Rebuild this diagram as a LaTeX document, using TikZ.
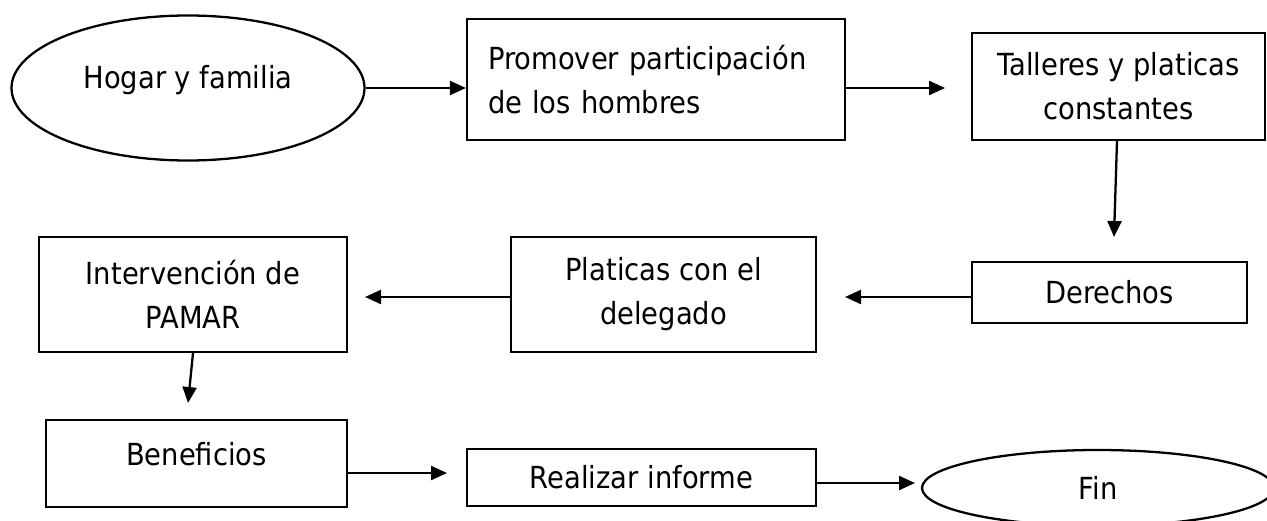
\documentclass[tikz,border=0pt]{standalone}
\usepackage{fontspec}
\setmainfont{DejaVu Sans}[FakeStretch=0.9]
\usepackage{tikz}
\usetikzlibrary{calc,arrows.meta,shapes.geometric}
\definecolor{lineaNegra}{RGB}{0,0,0}

\tikzset{
  caja/.style={draw=lineaNegra,line width=1.3pt,inner sep=0pt,align=center,font=\fontsize{17.3}{25}\selectfont},
  ovalo/.style={ellipse,draw=lineaNegra,line width=1.3pt,inner sep=0pt,font=\fontsize{17.3}{25}\selectfont},
  flecha/.style={-{Triangle[length=3.2mm,width=2.8mm]},lineaNegra,line width=1.3pt}
}

\begin{document}
\begin{tikzpicture}
\useasboundingbox (0,0) rectangle (25.34,-10.42);
% fila de arriba
\node[ovalo,minimum width=7.06cm,minimum height=2.9cm,text depth=0.45cm] (hogar) at (3.76,-1.76) {Hogar y familia};
\node[caja,minimum width=7.56cm,minimum height=2.42cm,align=left,text width=6.72cm,inner xsep=0.42cm] (promover) at (13.12,-1.59) {Promover participación\\de los hombres};
\node[caja,minimum width=5.86cm,minimum height=2.14cm] (talleres) at (22.37,-1.73) {Talleres y platicas\\constantes};
% fila del medio
\node[caja,minimum width=5.5cm,minimum height=1.22cm] (derechos) at (22.19,-5.85) {Derechos};
\node[caja,minimum width=6.1cm,minimum height=2.3cm] (platicas) at (13.27,-5.89) {Platicas con el\\delegado};
\node[caja,minimum width=6.16cm,minimum height=2.3cm] (intervencion) at (3.86,-5.89) {Intervención de\\PAMAR};
% fila de abajo
\node[caja,minimum width=6.02cm,minimum height=1.74cm,text depth=0.4cm] (beneficios) at (3.93,-9.27) {Beneficios};
\node[caja,minimum width=6.98cm,minimum height=1.14cm] (realizar) at (12.83,-9.55) {Realizar informe};
\node[ovalo,minimum width=7.04cm,minimum height=1.52cm] (fin) at (21.96,-9.76) {Fin};
% puntas libres de las flechas
\coordinate (puntaTalleres) at (18.9,-1.76);
\coordinate (puntaDerechos) at (22.28,-4.74);
\coordinate (puntaPlaticas) at (16.9,-5.94);
\coordinate (puntaIntervencion) at (7.3,-5.94);
\coordinate (puntaBeneficios) at (3.76,-8.06);
\coordinate (puntaRealizar) at (8.94,-9.46);
\coordinate (puntaFin) at (18.3,-9.66);
\draw[flecha] (hogar.east) -- (hogar.east -| promover.west);
\draw[flecha] (promover.east |- puntaTalleres) -- (puntaTalleres);
\draw[flecha] ($(talleres.south)+(-0.03,0)$) -- (puntaDerechos);
\draw[flecha] (derechos.west |- puntaPlaticas) -- (puntaPlaticas);
\draw[flecha] (platicas.west |- puntaIntervencion) -- (puntaIntervencion);
\draw[flecha] (intervencion.south) -- (puntaBeneficios);
\draw[flecha] (beneficios.east |- puntaRealizar) -- (puntaRealizar);
\draw[flecha] (realizar.east |- puntaFin) -- (puntaFin);
\end{tikzpicture}
\end{document}
